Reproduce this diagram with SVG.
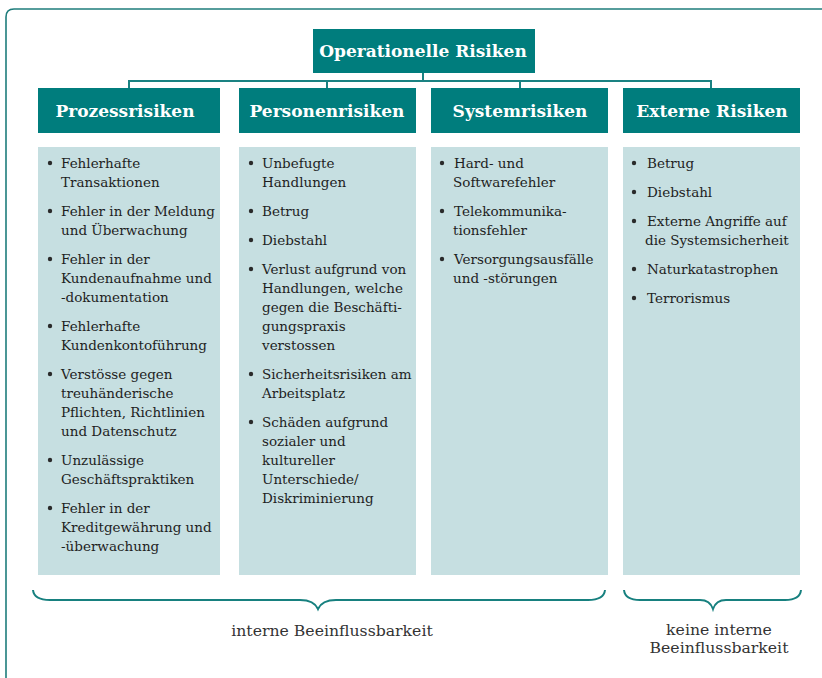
<svg xmlns="http://www.w3.org/2000/svg" width="822" height="678" viewBox="0 0 822 678">
  <style>
    .frame { fill: none; stroke: #1f7d7c; stroke-width: 1.6; }
    .head { fill: #007d7d; }
    .body { fill: #c6dfe1; }
    .htxt { font-family: "DejaVu Serif", "Liberation Serif", serif; font-weight: bold; font-size: 17px; fill: #ffffff; text-anchor: middle; }
    .txt { font-family: "DejaVu Serif", "Liberation Serif", serif; font-size: 13.5px; fill: #1e1e1e; }
    .bul { fill: #2a2a2a; }
    .conn { fill: none; stroke: #1a8282; stroke-width: 2; }
    .brace { fill: none; stroke: #17807f; stroke-width: 2; }
    .lbl { font-family: "DejaVu Serif", "Liberation Serif", serif; font-size: 15.7px; fill: #333333; text-anchor: middle; }
  </style>

  <!-- outer frame, open to the right and bottom -->
  <path class="frame" d="M6,690 V17 Q6,9 14,9 H830"/>

  <!-- connectors -->
  <g id="connectors">
    <path class="conn" d="M423,73 V81" stroke-width="3"/>
    <path class="conn" d="M129,88 V81 H711 V88"/>
    <path class="conn" d="M327,81 V88 M520,81 V88"/>
  </g>

  <g id="root">
    <rect class="head" x="313" y="29" width="222" height="44"/>
    <text class="htxt" x="423" y="57" font-size="17.6">Operationelle Risiken</text>
  </g>

  <g id="prozess">
    <rect class="head" x="38" y="88" width="182" height="45"/>
    <text class="htxt" x="125" y="117">Prozessrisiken</text>
    <rect class="body" x="38" y="147" width="182" height="428"/>
    <g class="txt">
      <circle class="bul" cx="50" cy="163" r="2.2"/>
      <text x="61" y="168">Fehlerhafte</text>
      <text x="61" y="187">Transaktionen</text>
      <circle class="bul" cx="50" cy="211" r="2.2"/>
      <text x="61" y="216">Fehler in der Meldung</text>
      <text x="61" y="235">und Überwachung</text>
      <circle class="bul" cx="50" cy="259" r="2.2"/>
      <text x="61" y="264">Fehler in der</text>
      <text x="61" y="283">Kundenaufnahme und</text>
      <text x="61" y="302">-dokumentation</text>
      <circle class="bul" cx="50" cy="326" r="2.2"/>
      <text x="61" y="331">Fehlerhafte</text>
      <text x="61" y="350">Kundenkontoführung</text>
      <circle class="bul" cx="50" cy="374" r="2.2"/>
      <text x="61" y="379">Verstösse gegen</text>
      <text x="61" y="398">treuhänderische</text>
      <text x="61" y="417">Pflichten, Richtlinien</text>
      <text x="61" y="436">und Datenschutz</text>
      <circle class="bul" cx="50" cy="460" r="2.2"/>
      <text x="61" y="465">Unzulässige</text>
      <text x="61" y="484">Geschäftspraktiken</text>
      <circle class="bul" cx="50" cy="508" r="2.2"/>
      <text x="61" y="513">Fehler in der</text>
      <text x="61" y="532">Kreditgewährung und</text>
      <text x="61" y="551">-überwachung</text>
    </g>
  </g>

  <g id="personen">
    <rect class="head" x="239" y="88" width="177" height="45"/>
    <text class="htxt" x="327" y="117">Personenrisiken</text>
    <rect class="body" x="239" y="147" width="177" height="428"/>
    <g class="txt">
      <circle class="bul" cx="251" cy="163" r="2.2"/>
      <text x="262" y="168">Unbefugte</text>
      <text x="262" y="187">Handlungen</text>
      <circle class="bul" cx="251" cy="211" r="2.2"/>
      <text x="262" y="216">Betrug</text>
      <circle class="bul" cx="251" cy="240" r="2.2"/>
      <text x="262" y="245">Diebstahl</text>
      <circle class="bul" cx="251" cy="269" r="2.2"/>
      <text x="262" y="274">Verlust aufgrund von</text>
      <text x="262" y="293">Handlungen, welche</text>
      <text x="262" y="312">gegen die Beschäfti-</text>
      <text x="262" y="331">gungspraxis</text>
      <text x="262" y="350">verstossen</text>
      <circle class="bul" cx="251" cy="374" r="2.2"/>
      <text x="262" y="379">Sicherheitsrisiken am</text>
      <text x="262" y="398">Arbeitsplatz</text>
      <circle class="bul" cx="251" cy="422" r="2.2"/>
      <text x="262" y="427">Schäden aufgrund</text>
      <text x="262" y="446">sozialer und</text>
      <text x="262" y="465">kultureller</text>
      <text x="262" y="484">Unterschiede/</text>
      <text x="262" y="503">Diskriminierung</text>
    </g>
  </g>

  <g id="system">
    <rect class="head" x="431" y="88" width="177" height="45"/>
    <text class="htxt" x="520" y="117">Systemrisiken</text>
    <rect class="body" x="431" y="147" width="177" height="428"/>
    <g class="txt">
      <circle class="bul" cx="442" cy="163" r="2.2"/>
      <text x="454" y="168">Hard- und</text>
      <text x="453" y="187">Softwarefehler</text>
      <circle class="bul" cx="442" cy="211" r="2.2"/>
      <text x="454" y="216">Telekommunika-</text>
      <text x="453" y="235">tionsfehler</text>
      <circle class="bul" cx="442" cy="259" r="2.2"/>
      <text x="454" y="264">Versorgungsausfälle</text>
      <text x="453" y="283">und -störungen</text>
    </g>
  </g>

  <g id="extern">
    <rect class="head" x="623" y="88" width="177" height="45"/>
    <text class="htxt" x="712" y="117">Externe Risiken</text>
    <rect class="body" x="623" y="147" width="177" height="428"/>
    <g class="txt">
      <circle class="bul" cx="634" cy="163" r="2.2"/>
      <text x="647" y="168">Betrug</text>
      <circle class="bul" cx="634" cy="192" r="2.2"/>
      <text x="647" y="197">Diebstahl</text>
      <circle class="bul" cx="634" cy="221" r="2.2"/>
      <text x="647" y="226">Externe Angriffe auf</text>
      <text x="645" y="245">die Systemsicherheit</text>
      <circle class="bul" cx="634" cy="269" r="2.2"/>
      <text x="647" y="274">Naturkatastrophen</text>
      <circle class="bul" cx="634" cy="298" r="2.2"/>
      <text x="647" y="303">Terrorismus</text>
    </g>
  </g>

  <!-- braces grouping the categories -->
  <g id="intern-brace">
    <path class="brace" d="M33,590 Q34,600 50,600 H300 Q314,600 318,609 Q322,600 336,600 H588 Q604,600 605,590"/>
    <text class="lbl" x="332" y="636">interne Beeinflussbarkeit</text>
  </g>
  <g id="extern-brace">
    <path class="brace" d="M624,590 Q625,600 640,600 H700 Q710,600 713,609 Q716,600 726,600 H785 Q800,600 801,590"/>
    <text class="lbl" x="719" y="635">keine interne</text>
    <text class="lbl" x="719" y="653">Beeinflussbarkeit</text>
  </g>
</svg>
